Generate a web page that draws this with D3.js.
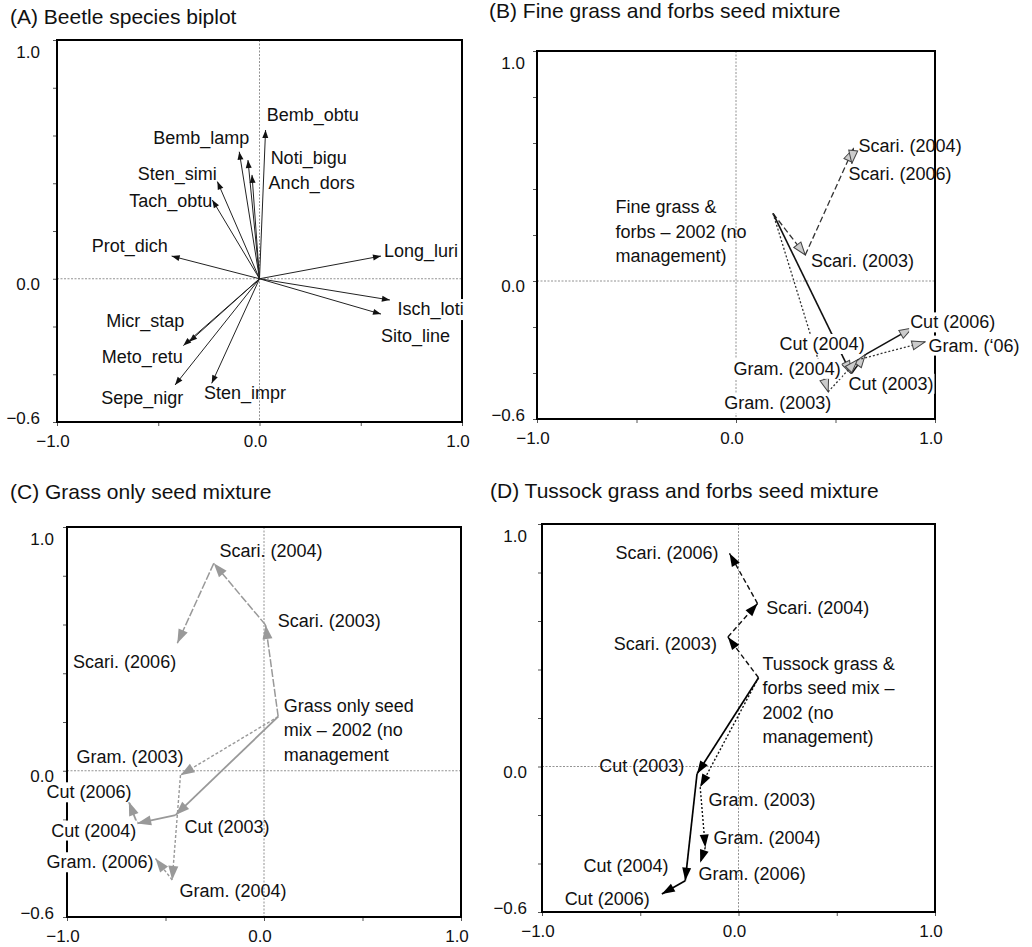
<!DOCTYPE html>
<html>
<head>
<meta charset="utf-8">
<script src="https://cdn.jsdelivr.net/npm/d3@7"></script>
<style>
  body { margin: 0; background: #fff; }
  svg text { font-family: "Liberation Sans", Arial, sans-serif; fill: #111; }
</style>
</head>
<body>
<svg id="chart" width="1032" height="947"></svg>
<script>
// (A) beetle species vectors (axis 1, axis 2)
var beetles = [
  { name: "Bemb_obtu", x: 0.03, y: 0.623 },
  { name: "Bemb_lamp", x: -0.10, y: 0.532 },
  { name: "Noti_bigu", x: -0.057, y: 0.497 },
  { name: "Anch_dors", x: -0.037, y: 0.435 },
  { name: "Sten_simi", x: -0.208, y: 0.407 },
  { name: "Tach_obtu", x: -0.233, y: 0.33 },
  { name: "Prot_dich", x: -0.434, y: 0.095 },
  { name: "Long_luri", x: 0.60, y: 0.095 },
  { name: "Isch_loti", x: 0.644, y: -0.089 },
  { name: "Sito_line", x: 0.60, y: -0.148 },
  { name: "Micr_stap", x: -0.347, y: -0.264 },
  { name: "Meto_retu", x: -0.376, y: -0.28 },
  { name: "Sepe_nigr", x: -0.417, y: -0.445 },
  { name: "Sten_impr", x: -0.236, y: -0.438 }
];

// trajectories 2002 -> 2003 -> 2004 -> 2006
// (B) fine grass and forbs
var fineScari = [[0.186, 0.294], [0.348, 0.113], [0.59, 0.576], [0.582, 0.511]];
var fineCut = [[0.186, 0.294], [0.579, -0.404], [0.65, -0.32], [0.886, -0.204]];
var fineGram = [[0.186, 0.294], [0.463, -0.482], [0.61, -0.343], [0.95, -0.265]];
// (C) grass only
var grassScari = [[0.072, 0.222], [0.008, 0.598], [-0.255, 0.851], [-0.44, 0.523]];
var grassCut = [[0.072, 0.222], [-0.449, -0.182], [-0.644, -0.216], [-0.686, -0.127]];
var grassGram = [[0.072, 0.222], [-0.424, -0.018], [-0.466, -0.448], [-0.551, -0.36]];
// (D) tussock grass and forbs
var tussScari = [[0.102, 0.366], [-0.054, 0.534], [0.097, 0.672], [-0.046, 0.879]];
var tussCut = [[0.102, 0.366], [-0.211, -0.03], [-0.271, -0.471], [-0.39, -0.526]];
var tussGram = [[0.102, 0.366], [-0.195, -0.085], [-0.169, -0.334], [-0.195, -0.397]];

var xTicks = [-1, -0.5, 0, 0.5, 1];
var yTicks = [-0.6, -0.4, -0.2, 0, 0.2, 0.4, 0.6, 0.8, 1.0];
var xTickLabels = [-1, 0, 1];
var yTickLabels = [1, 0, -0.6];

// label placement (data units, baseline), kept apart from the data
var labelsA = [
  ["Bemb_obtu", 0.036, 0.662, "start"], ["Bemb_lamp", -0.05, 0.565, "end"],
  ["Noti_bigu", 0.055, 0.481, "start"], ["Anch_dors", 0.045, 0.376, "start"],
  ["Sten_simi", -0.211, 0.414, "end"], ["Tach_obtu", -0.233, 0.302, "end"],
  ["Prot_dich", -0.453, 0.111, "end"], ["Long_luri", 0.615, 0.09, "start", 1],
  ["Isch_loti", 0.682, -0.152, "start", 1], ["Sito_line", 0.60, -0.264, "start"],
  ["Micr_stap", -0.371, -0.203, "end"], ["Meto_retu", -0.379, -0.352, "end"],
  ["Sepe_nigr", -0.376, -0.526, "end"], ["Sten_impr", -0.274, -0.505, "start"]
];
var labelsB = [
  ["Fine grass &\nforbs \u2013 2002 (no\nmanagement)", -0.606, 0.294, "start"],
  ["Scari. (2004)", 0.616, 0.562, "start"], ["Scari. (2006)", 0.565, 0.439, "start"],
  ["Scari. (2003)", 0.377, 0.062, "start"], ["Cut (2006)", 0.875, -0.206, "start", 1],
  ["Cut (2004)", 0.219, -0.30, "start", 1], ["Gram. (\u201806)", 0.967, -0.307, "start", 1],
  ["Gram. (2004)", -0.012, -0.408, "start", 1], ["Cut (2003)", 0.565, -0.473, "start", 1],
  ["Gram. (2003)", -0.059, -0.557, "start", 1]
];
var labelsC = [
  ["Scari. (2004)", -0.226, 0.875, "start"], ["Scari. (2003)", 0.07, 0.588, "start"],
  ["Scari. (2006)", -0.969, 0.42, "start"],
  ["Grass only seed\nmix \u2013 2002 (no\nmanagement", 0.1, 0.24, "start"],
  ["Gram. (2003)", -0.952, 0.03, "start"], ["Cut (2006)", -1.104, -0.113, "start", 1],
  ["Cut (2004)", -1.08, -0.27, "start", 1], ["Cut (2003)", -0.404, -0.254, "start"],
  ["Gram. (2006)", -1.104, -0.40, "start", 1], ["Gram. (2004)", -0.429, -0.519, "start"]
];
var labelsD = [
  ["Scari. (2006)", -0.102, 0.854, "end"], ["Scari. (2004)", 0.141, 0.628, "start"],
  ["Scari. (2003)", -0.11, 0.482, "end"],
  ["Tussock grass &\nforbs seed mix \u2013\n2002 (no\nmanagement)", 0.122, 0.397, "start"],
  ["Cut (2003)", -0.276, -0.023, "end"], ["Gram. (2003)", -0.153, -0.161, "start"],
  ["Gram. (2004)", -0.127, -0.319, "start"], ["Gram. (2006)", -0.203, -0.468, "start"],
  ["Cut (2004)", -0.356, -0.434, "end"], ["Cut (2006)", -0.452, -0.57, "end"]
];

var panels = [
  { title: "(A) Beetle species biplot", tx: 10, ty: 24, left: 57, right: 462, top: 40, bottom: 422,
    yGap: 17, labels: labelsA, marker: "arrA" },
  { title: "(B) Fine grass and forbs seed mixture", tx: 489, ty: 18, left: 537, right: 935, top: 51, bottom: 419,
    yGap: 12, labels: labelsB, marker: "arrB",
    series: [
      { pts: fineScari, stroke: "#333", dash: "6,3", w: 1.3 },
      { pts: fineCut, stroke: "#111", dash: null, w: 1.6 },
      { pts: fineGram, stroke: "#333", dash: "2,2", w: 1.3 }
    ] },
  { title: "(C) Grass only seed mixture", tx: 10, ty: 499, left: 67, right: 461, top: 527, bottom: 917,
    yGap: 13, labels: labelsC, marker: "arrC", xGap: 25,
    series: [
      { pts: grassScari, stroke: "#999", dash: "8,2", w: 1.5 },
      { pts: grassCut, stroke: "#999", dash: null, w: 1.8 },
      { pts: grassGram, stroke: "#999", dash: "3,2", w: 1.4 }
    ] },
  { title: "(D) Tussock grass and forbs seed mixture", tx: 490, ty: 498, left: 542, right: 935, top: 524, bottom: 912,
    yGap: 15, labels: labelsD, marker: "arrD",
    series: [
      { pts: tussScari, stroke: "#111", dash: "5,3", w: 1.4 },
      { pts: tussCut, stroke: "#000", dash: null, w: 1.7 },
      { pts: tussGram, stroke: "#111", dash: "2,2", w: 1.4 }
    ] }
];

var svg = d3.select("#chart");
var defs = svg.append("defs");

// arrowheads: [id, length, width, fill, stroke]
[["arrA", 8, 6, "#111", "none"], ["arrB", 13, 9, "#ccc", "#444"],
 ["arrC", 14, 10, "#999", "none"], ["arrD", 13, 9, "#000", "none"]].forEach(function (m) {
  defs.append("marker")
    .attr("id", m[0])
    .attr("markerUnits", "userSpaceOnUse")
    .attr("viewBox", "-1 -1 " + (m[1] + 2) + " " + (m[2] + 2))
    .attr("markerWidth", m[1] + 2)
    .attr("markerHeight", m[2] + 2)
    .attr("refX", m[1])
    .attr("refY", m[2] / 2)
    .attr("orient", "auto")
    .append("path")
    .attr("d", "M0,0L" + m[1] + "," + m[2] / 2 + "L0," + m[2] + "Z")
    .attr("fill", m[3])
    .attr("stroke", m[4])
    .attr("stroke-width", 1);
});

panels.forEach(function (p) {
  var x = d3.scaleLinear().domain([-1, 1]).range([p.left, p.right]);
  var y = d3.scaleLinear().domain([-0.6, 1]).range([p.bottom, p.top]);
  var g = svg.append("g");

  g.append("text")
    .attr("x", p.tx)
    .attr("y", p.ty)
    .style("font-size", "21px")
    .text(p.title);

  // zero lines
  g.append("line")
    .attr("x1", x(0)).attr("x2", x(0)).attr("y1", p.top).attr("y2", p.bottom)
    .attr("stroke", "#777").attr("stroke-width", 0.8).attr("stroke-dasharray", "2,1.5");
  g.append("line")
    .attr("x1", p.left).attr("x2", p.right).attr("y1", y(0)).attr("y2", y(0))
    .attr("stroke", "#777").attr("stroke-width", 0.8).attr("stroke-dasharray", "2,1.5");

  // ticks
  var ya = g.append("g")
    .attr("transform", "translate(" + p.left + ",0)")
    .call(d3.axisLeft(y).tickValues(yTicks).tickSize(4).tickFormat(""));
  var xa = g.append("g")
    .attr("transform", "translate(0," + p.bottom + ")")
    .call(d3.axisBottom(x).tickValues(xTicks).tickSize(4).tickFormat(""));
  ya.select(".domain").remove();
  xa.select(".domain").remove();
  g.selectAll(".tick line").attr("stroke", "#555");

  // frame
  g.append("rect")
    .attr("x", p.left).attr("y", p.top)
    .attr("width", p.right - p.left).attr("height", p.bottom - p.top)
    .attr("fill", "none").attr("stroke", "#000").attr("stroke-width", 2);

  // tick labels
  g.selectAll(".ylab")
    .data(yTickLabels)
    .enter()
    .append("text")
    .attr("x", p.left - p.yGap)
    .attr("y", function (d, i) { return y(d) + (i === 0 ? 17.5 : i === 2 ? 1.5 : 11); })
    .attr("text-anchor", "end")
    .style("font-size", "17px")
    .text(function (d) { return d3.format(".1f")(d); });
  g.selectAll(".xlab")
    .data(xTickLabels)
    .enter()
    .append("text")
    .attr("x", function (d) { return x(d) - 4; })
    .attr("y", p.bottom + (p.xGap || 25))
    .attr("text-anchor", "middle")
    .style("font-size", "17px")
    .text(function (d) { return d3.format(".1f")(d); });

  // arrows
  if (!p.series) {
    g.selectAll(".sp")
      .data(beetles)
      .enter()
      .append("line")
      .attr("x1", x(0)).attr("y1", y(0))
      .attr("x2", function (d) { return x(d.x); })
      .attr("y2", function (d) { return y(d.y); })
      .attr("stroke", "#222").attr("stroke-width", 1)
      .attr("marker-end", "url(#" + p.marker + ")");
  } else {
    p.series.forEach(function (s) {
      var segs = d3.pairs(s.pts);
      g.selectAll(null)
        .data(segs)
        .enter()
        .append("line")
        .attr("x1", function (d) { return x(d[0][0]); })
        .attr("y1", function (d) { return y(d[0][1]); })
        .attr("x2", function (d) { return x(d[1][0]); })
        .attr("y2", function (d) { return y(d[1][1]); })
        .attr("stroke", s.stroke)
        .attr("stroke-width", s.w)
        .attr("stroke-dasharray", s.dash)
        .attr("marker-end", "url(#" + p.marker + ")");
    });
  }

  // labels
  p.labels.forEach(function (l) {
    var lg = g.append("g");
    var t = lg.append("text")
      .attr("text-anchor", l[3])
      .style("font-size", "18px");
    l[0].split("\n").forEach(function (line, i) {
      t.append("tspan")
        .attr("x", x(l[1]))
        .attr("y", y(l[2]) + i * 24.2)
        .text(line);
    });
    if (l[4]) {
      var bb = t.node().getBBox();
      lg.insert("rect", "text")
        .attr("x", bb.x - 1).attr("y", bb.y)
        .attr("width", bb.width + 2).attr("height", bb.height)
        .attr("fill", "#fff");
    }
  });
});
</script>
</body>
</html>
